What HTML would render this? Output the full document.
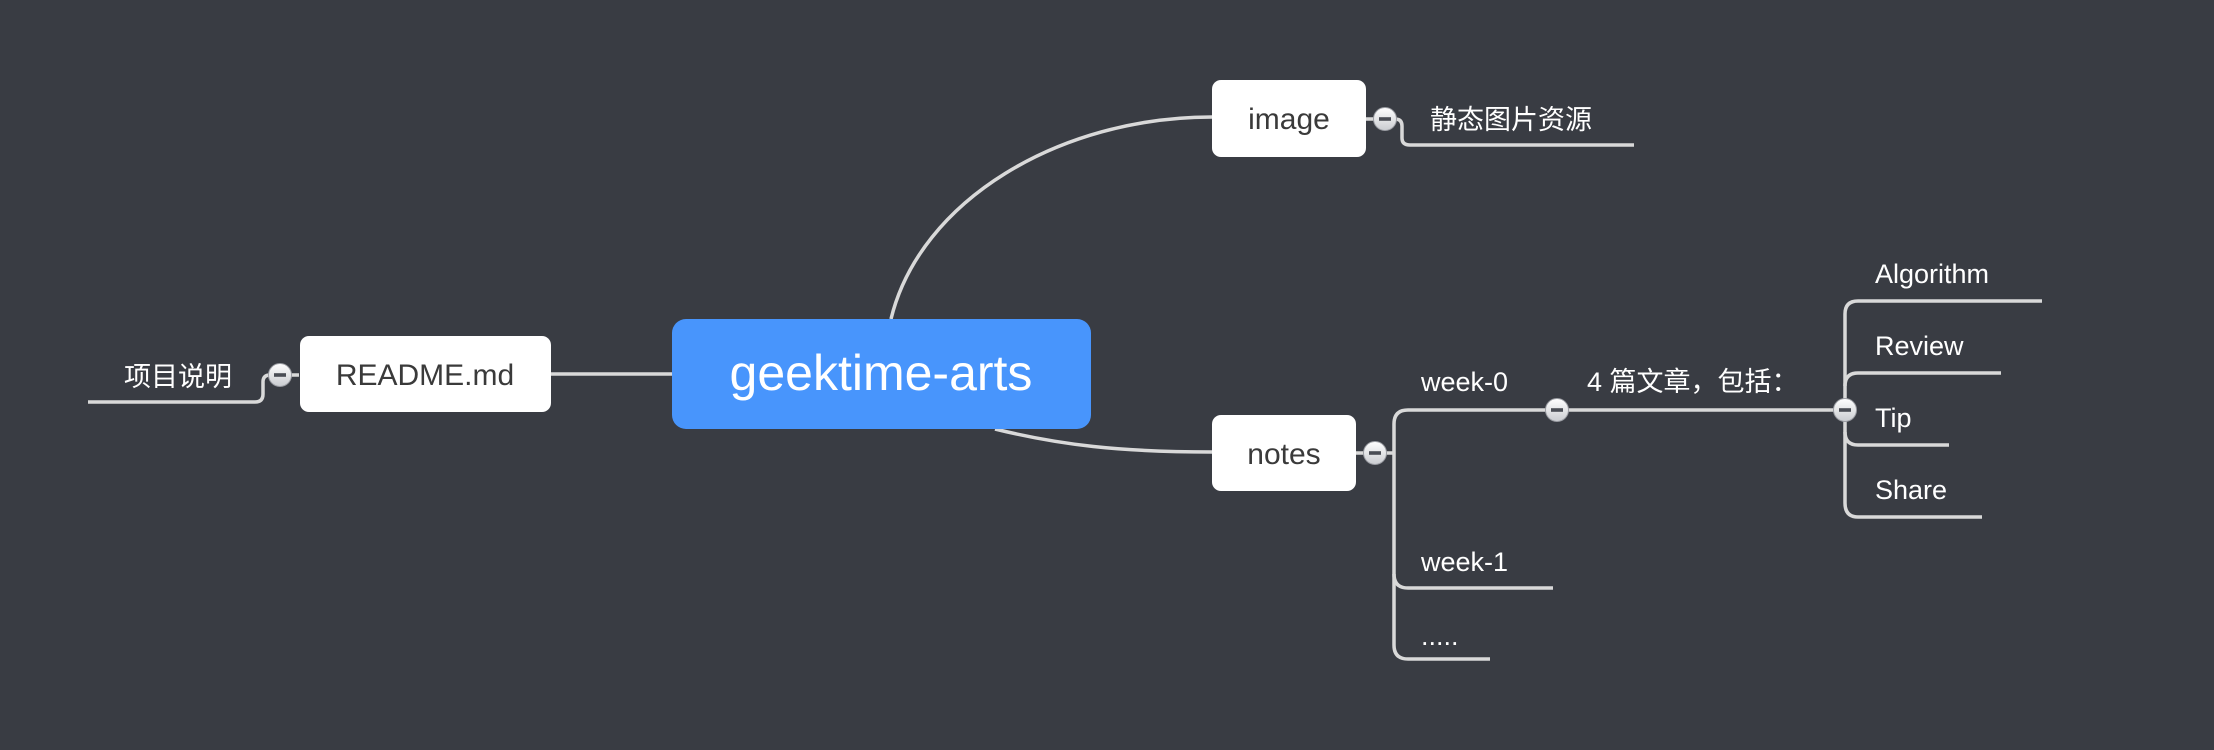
<!DOCTYPE html>
<html><head><meta charset="utf-8"><style>
html,body{margin:0;padding:0;background:#393c43;}
svg{display:block;}
text{font-family:"Liberation Sans","Noto Sans CJK SC",sans-serif;}
</style></head><body>
<svg width="2214" height="750" viewBox="0 0 2214 750" xmlns="http://www.w3.org/2000/svg">
<defs>
<linearGradient id="cg" x1="0" y1="0" x2="0" y2="1">
<stop offset="0" stop-color="#ffffff"/><stop offset="1" stop-color="#c9cbd0"/>
</linearGradient>
<g id="col"><circle r="11.5" fill="url(#cg)" stroke="#9a9ca2" stroke-width="1"/><rect x="-6" y="-1.8" width="12" height="3.6" fill="#4a4d55"/></g>
</defs>
<g fill="none" stroke="#d9d9d9" stroke-width="3.5">
<!-- center to README -->
<path d="M551 374 H672"/>
<!-- README to 项目说明 -->
<path d="M299 375 H270 Q263 375 263 382 V394 Q263 402 255 402 H88"/>
<!-- center to image -->
<path d="M891 319 C920 200 1060 117 1212 117"/>
<!-- image to text -->
<path d="M1366 119 H1395 Q1402 119 1402 126 V138 Q1402 145 1410 145 H1634"/>
<!-- center to notes -->
<path d="M995 429 C1060 445 1120 452 1212 452"/>
<!-- notes bracket -->
<path d="M1356 453 H1394"/>
<path d="M1556 410 H1408 Q1394 410 1394 424 V645 Q1394 659 1408 659 H1490"/>
<path d="M1394 574 Q1394 588 1408 588 H1553"/>
<!-- week-0 to 4篇 -->
<path d="M1556 410 H1845"/>
<!-- right bracket -->
<path d="M2042 301 H1858 Q1845 301 1845 314 V503 Q1845 517 1858 517 H1982"/>
<path d="M1845 386 Q1845 373 1858 373 H2001"/>
<path d="M1845 432 Q1845 445 1858 445 H1949"/>
</g>
<!-- center node -->
<rect x="672" y="319" width="419" height="110" rx="14" fill="#4895fc"/>
<text x="881" y="390" font-size="50" fill="#fff" text-anchor="middle">geektime-arts</text>
<!-- README -->
<rect x="300" y="336" width="251" height="76" rx="9" fill="#fff"/>
<text x="425" y="385" font-size="30" fill="#3a3a3a" text-anchor="middle">README.md</text>
<!-- image -->
<rect x="1212" y="80" width="154" height="77" rx="9" fill="#fff"/>
<text x="1289" y="129" font-size="30" fill="#3a3a3a" text-anchor="middle">image</text>
<!-- notes -->
<rect x="1212" y="415" width="144" height="76" rx="9" fill="#fff"/>
<text x="1284" y="464" font-size="30" fill="#3a3a3a" text-anchor="middle">notes</text>
<g fill="#fff" font-size="27">
<text x="124" y="386">项目说明</text>
<text x="1430" y="129">静态图片资源</text>
<text x="1421" y="391">week-0</text>
<text x="1587" y="391">4 篇文章，包括：</text>
<text x="1421" y="571">week-1</text>
<text x="1421" y="645">.....</text>
<text x="1875" y="283">Algorithm</text>
<text x="1875" y="355">Review</text>
<text x="1875" y="427">Tip</text>
<text x="1875" y="499">Share</text>
</g>
<use href="#col" x="280" y="375"/>
<use href="#col" x="1385" y="119"/>
<use href="#col" x="1375" y="453"/>
<use href="#col" x="1557" y="410"/>
<use href="#col" x="1845" y="410"/>
</svg>
</body></html>
